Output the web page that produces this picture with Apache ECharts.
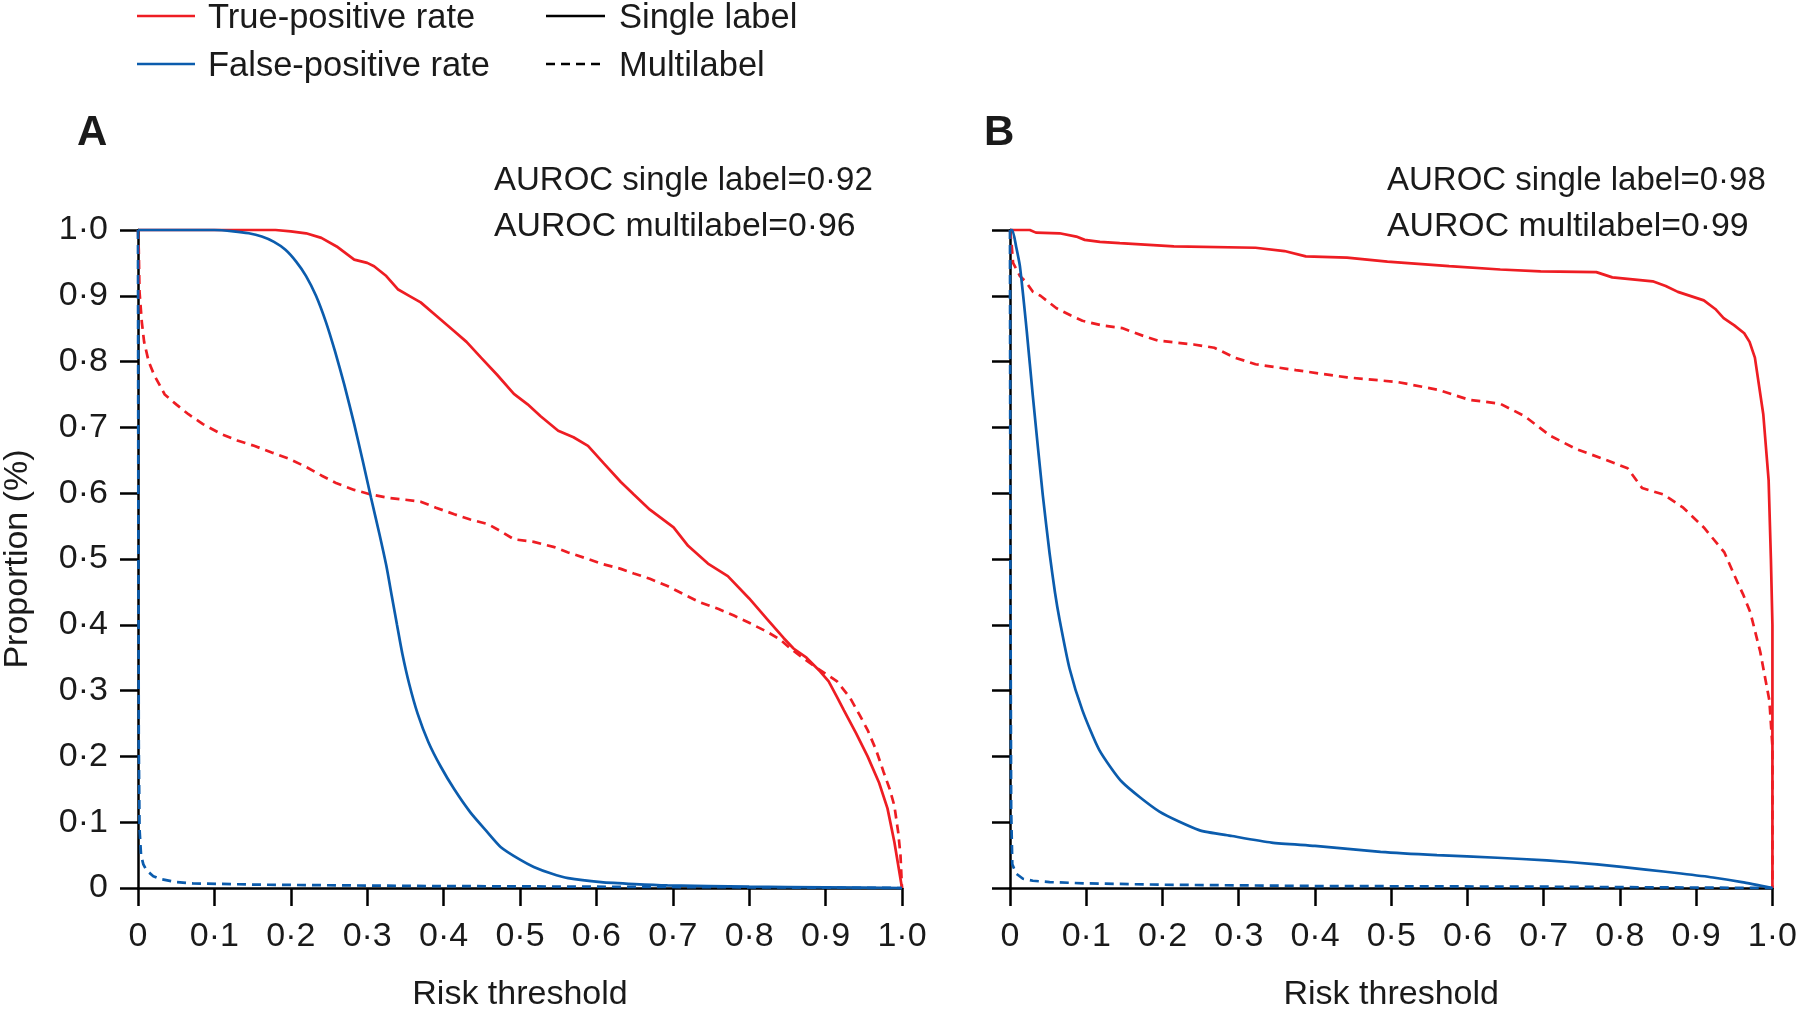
<!DOCTYPE html>
<html>
<head>
<meta charset="utf-8">
<script src="https://cdn.jsdelivr.net/npm/echarts@6/dist/echarts.min.js"></script>
<style>
html,body{margin:0;padding:0;background:#fff;}
#chart{width:1800px;height:1017px;}
</style>
</head>
<body>
<div id="chart"></div>
<script>
// ---------- data ----------
const tickLabels = ['0','0·1','0·2','0·3','0·4','0·5','0·6','0·7','0·8','0·9','1·0'];
const legendItems = ['True-positive rate','False-positive rate','Single label','Multilabel'];
const panelLabels = ['A','B'];
const aurocA = ['AUROC single label=0·92','AUROC multilabel=0·96'];
const aurocB = ['AUROC single label=0·98','AUROC multilabel=0·99'];

// Panel A
const A_tprSingle = [[0,1],[0.1,1],[0.18,1],[0.2,0.998],[0.22,0.995],[0.24,0.988],[0.26,0.975],[0.283,0.955],[0.3,0.95],[0.309,0.945],[0.325,0.93],[0.34,0.91],[0.355,0.9],[0.37,0.89],[0.39,0.87],[0.414,0.846],[0.43,0.83],[0.449,0.806],[0.47,0.78],[0.492,0.751],[0.51,0.735],[0.527,0.717],[0.55,0.695],[0.57,0.685],[0.589,0.672],[0.61,0.645],[0.632,0.617],[0.649,0.598],[0.67,0.575],[0.701,0.548],[0.72,0.52],[0.746,0.493],[0.772,0.474],[0.8,0.44],[0.824,0.408],[0.845,0.38],[0.858,0.364],[0.875,0.35],[0.893,0.329],[0.904,0.314],[0.915,0.29],[0.924,0.27],[0.94,0.235],[0.955,0.2],[0.97,0.16],[0.981,0.121],[0.99,0.07],[1,0]];
const A_tprMulti = [[0,1],[0.001,0.97],[0.002,0.906],[0.005,0.86],[0.008,0.83],[0.014,0.8],[0.021,0.78],[0.035,0.75],[0.05,0.735],[0.066,0.72],[0.085,0.705],[0.109,0.69],[0.13,0.68],[0.152,0.672],[0.175,0.662],[0.196,0.653],[0.22,0.64],[0.24,0.627],[0.26,0.615],[0.283,0.605],[0.305,0.598],[0.327,0.593],[0.35,0.59],[0.37,0.587],[0.39,0.578],[0.414,0.568],[0.435,0.56],[0.458,0.553],[0.475,0.542],[0.492,0.53],[0.518,0.526],[0.545,0.518],[0.563,0.51],[0.589,0.5],[0.606,0.493],[0.632,0.485],[0.649,0.478],[0.67,0.47],[0.693,0.459],[0.715,0.446],[0.736,0.434],[0.76,0.424],[0.78,0.414],[0.8,0.403],[0.824,0.389],[0.84,0.378],[0.854,0.364],[0.87,0.35],[0.889,0.334],[0.905,0.322],[0.915,0.314],[0.932,0.289],[0.945,0.262],[0.955,0.24],[0.966,0.21],[0.976,0.176],[0.984,0.15],[0.99,0.125],[0.995,0.085],[0.998,0.05],[1,0]];
const A_fprSingle = [[0,1],[0.1,1],[0.125,0.998],[0.145,0.995],[0.162,0.99],[0.178,0.982],[0.193,0.97],[0.207,0.952],[0.22,0.93],[0.233,0.9],[0.246,0.86],[0.258,0.815],[0.27,0.765],[0.283,0.705],[0.294,0.65],[0.305,0.593],[0.316,0.538],[0.325,0.49],[0.332,0.445],[0.339,0.4],[0.346,0.356],[0.355,0.31],[0.366,0.265],[0.38,0.222],[0.396,0.185],[0.414,0.15],[0.435,0.115],[0.455,0.088],[0.475,0.062],[0.5,0.043],[0.518,0.032],[0.541,0.022],[0.563,0.015],[0.606,0.009],[0.65,0.006],[0.693,0.004],[0.8,0.002],[0.9,0.001],[1,0]];
const A_fprMulti = [[0,1],[0.0005,0.55],[0.001,0.22],[0.002,0.09],[0.004,0.05],[0.007,0.036],[0.011,0.027],[0.02,0.018],[0.028,0.014],[0.05,0.009],[0.072,0.007],[0.16,0.005],[0.377,0.003],[0.6,0.002],[0.8,0.001],[1,0]];

// Panel B
const B_tprSingle = [[0,1],[0.026,1],[0.034,0.996],[0.065,0.995],[0.087,0.99],[0.098,0.985],[0.118,0.982],[0.144,0.98],[0.215,0.975],[0.322,0.973],[0.36,0.968],[0.388,0.96],[0.442,0.958],[0.495,0.952],[0.576,0.945],[0.643,0.94],[0.696,0.937],[0.769,0.936],[0.79,0.928],[0.843,0.922],[0.86,0.915],[0.876,0.906],[0.91,0.893],[0.925,0.88],[0.936,0.866],[0.95,0.855],[0.963,0.843],[0.97,0.83],[0.977,0.806],[0.988,0.72],[0.995,0.62],[0.998,0.5],[1,0.4],[1,0]];
const B_tprMulti = [[0,1],[0.002,0.98],[0.004,0.95],[0.013,0.93],[0.021,0.921],[0.03,0.906],[0.04,0.9],[0.061,0.881],[0.08,0.87],[0.095,0.862],[0.121,0.855],[0.147,0.851],[0.175,0.839],[0.194,0.832],[0.241,0.826],[0.268,0.821],[0.295,0.806],[0.322,0.796],[0.375,0.787],[0.442,0.776],[0.508,0.769],[0.562,0.757],[0.602,0.742],[0.643,0.736],[0.675,0.717],[0.709,0.687],[0.743,0.667],[0.776,0.653],[0.81,0.638],[0.829,0.608],[0.857,0.598],[0.883,0.578],[0.91,0.548],[0.937,0.51],[0.954,0.465],[0.962,0.445],[0.971,0.419],[0.984,0.359],[0.996,0.285],[1,0.215],[1,0]];
const B_fprSingle = [[0,1],[0.003,1],[0.008,0.975],[0.013,0.945],[0.022,0.846],[0.03,0.747],[0.043,0.597],[0.052,0.508],[0.059,0.449],[0.065,0.408],[0.078,0.334],[0.095,0.27],[0.117,0.21],[0.147,0.161],[0.196,0.116],[0.248,0.088],[0.291,0.079],[0.343,0.069],[0.4,0.064],[0.486,0.055],[0.56,0.05],[0.639,0.046],[0.704,0.042],[0.77,0.036],[0.834,0.028],[0.88,0.022],[0.922,0.016],[0.96,0.009],[1,0]];
const B_fprMulti = [[0,1],[0.0005,0.5],[0.0015,0.12],[0.003,0.036],[0.008,0.022],[0.017,0.014],[0.03,0.011],[0.052,0.009],[0.1,0.007],[0.2,0.005],[0.4,0.003],[0.7,0.002],[1,0]];

// ---------- styling ----------
const RED = '#EE1D23', BLUE = '#0B5CAD', INK = '#1a1a1a';
const FONT = 'Liberation Sans, Arial, sans-serif';
const FS = 33;
const DASH = [9, 6];

function fmt(v){ return tickLabels[Math.round(v*10)]; }

function xAxis(gi){
  return {
    type:'value', gridIndex:gi, min:0, max:1, interval:0.1,
    axisLine:{show:true, onZero:false, lineStyle:{color:'#000', width:2.5}},
    axisTick:{show:true, length:18, lineStyle:{color:'#000', width:2.5}},
    axisLabel:{show:true, fontSize:FS+1, fontFamily:FONT, color:INK, margin:32, formatter:fmt},
    splitLine:{show:false},
    name:'Risk threshold', nameLocation:'middle', nameGap:90,
    nameTextStyle:{fontSize:FS+1, fontFamily:FONT, color:INK}
  };
}
function yAxis(gi, showLabels){
  return {
    type:'value', gridIndex:gi, min:0, max:1, interval:0.1,
    axisLine:{show:true, onZero:false, lineStyle:{color:'#000', width:2.5}},
    axisTick:{show:true, length:18, lineStyle:{color:'#000', width:2.5}},
    axisLabel:{show:showLabels, fontSize:FS+1, fontFamily:FONT, color:INK, margin:30, formatter:fmt},
    splitLine:{show:false},
    name: showLabels ? 'Proportion (%)' : '', nameLocation:'middle', nameGap:103, nameRotate:90,
    nameTextStyle:{fontSize:FS+1, fontFamily:FONT, color:INK}
  };
}
function line(data, color, dashed, gi, smooth){
  return {
    type:'line', data:data, xAxisIndex:gi, yAxisIndex:gi,
    showSymbol:false, symbol:'none', clip:false, smooth: smooth ? 0.2 : false,
    lineStyle:{color:color, width:2.7, type: dashed ? DASH : 'solid'},
    animation:false, z:3
  };
}

const grids = [
  {left:137, top:230, width:765, height:671},
  {left:1010, top:230, width:765, height:671}
];

function txt(x, y, s, opts){
  return {type:'text', x:x, y:y, style:Object.assign({text:s, fontSize:FS, fontFamily:FONT, fill:INK, textVerticalAlign:'middle', textAlign:'left'}, opts||{})};
}
function seg(x1, y1, x2, y2, color, dashed){
  return {type:'line', shape:{x1:x1, y1:y1, x2:x2, y2:y2}, style:{stroke:color, lineWidth:2.6, lineDash: dashed ? DASH : null}};
}

const LFS = 34.5;
const graphics = [
  seg(137, 16, 195, 16, RED, false), txt(208, 18, legendItems[0], {fontSize:LFS}),
  seg(137, 64, 195, 64, BLUE, false), txt(208, 66, legendItems[1], {fontSize:LFS}),
  seg(546, 16, 605, 16, '#000', false), txt(619, 18, legendItems[2], {fontSize:LFS}),
  seg(546, 64, 605, 64, '#000', true), txt(619, 66, legendItems[3], {fontSize:LFS}),
  txt(77, 133, panelLabels[0], {fontSize:42, fontWeight:'bold'}),
  txt(984, 133, panelLabels[1], {fontSize:42, fontWeight:'bold'}),
  txt(494, 181, aurocA[0]), txt(494, 227, aurocA[1], {fontSize:FS+0.8}),
  txt(1387, 181, aurocB[0]), txt(1387, 227, aurocB[1], {fontSize:FS+0.8})
];

const chart = echarts.init(document.getElementById('chart'), null, {renderer:'canvas'});
chart.setOption({
  animation:false,
  backgroundColor:'#fff',
  grid:grids,
  xAxis:[xAxis(0), xAxis(1)],
  yAxis:[yAxis(0, true), yAxis(1, false)],
  graphic:graphics,
  series:[
    line(A_tprSingle, RED, false, 0, false),
    line(A_tprMulti, RED, true, 0, false),
    line(A_fprSingle, BLUE, false, 0, true),
    line(A_fprMulti, BLUE, true, 0, false),
    line(B_tprSingle, RED, false, 1, false),
    line(B_tprMulti, RED, true, 1, false),
    line(B_fprSingle, BLUE, false, 1, true),
    line(B_fprMulti, BLUE, true, 1, false)
  ]
});
</script>
</body>
</html>
